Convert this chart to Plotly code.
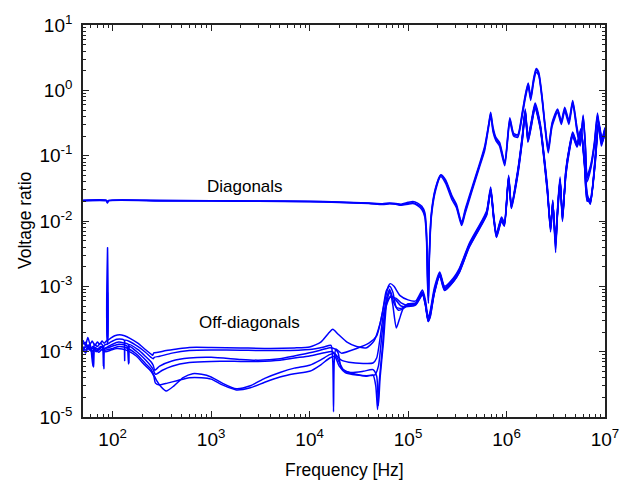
import plotly.graph_objects as go

# Measured transfer voltage ratios, (frequency [Hz], ratio) pairs per winding combination.
DIAG_1 = [(50, 0.0206), (86, 0.0206), (88.5, 0.0188), (91, 0.0205), (300, 0.0205), (1000, 0.0204),
          (3000, 0.0202), (1e4, 0.0199), (2e4, 0.0194), (4e4, 0.0187), (5.5e4, 0.0181), (6.5e4, 0.0186),
          (7.5e4, 0.0183), (8.5e4, 0.0177), (1e5, 0.0187), (1.12e5, 0.0191), (1.25e5, 0.0178),
          (1.38e5, 0.0160), (1.48e5, 0.0125), (1.54e5, 0.006), (1.58e5, 0.0012), (1.61e5, 0.0006),
          (1.64e5, 0.0025), (1.72e5, 0.012), (1.9e5, 0.031), (2.15e5, 0.050), (2.4e5, 0.041),
          (2.8e5, 0.023), (3.1e5, 0.017), (3.5e5, 0.009), (3.8e5, 0.014), (4.5e5, 0.032), (5.3e5, 0.07),
          (6.0e5, 0.13), (6.6e5, 0.3), (6.9e5, 0.44), (7.3e5, 0.25), (7.8e5, 0.18), (8.5e5, 0.15),
          (9.6e5, 0.076), (1.08e6, 0.36), (1.18e6, 0.21), (1.3e6, 0.20), (1.45e6, 0.45), (1.55e6, 0.8),
          (1.66e6, 1.26), (1.76e6, 0.75), (1.88e6, 1.4), (2.0e6, 2.07), (2.12e6, 1.8), (2.3e6, 0.75),
          (2.45e6, 0.3), (2.65e6, 0.12), (2.9e6, 0.3), (3.3e6, 0.5), (3.6e6, 0.32), (3.9e6, 0.52),
          (4.3e6, 0.33), (4.7e6, 0.67), (5.2e6, 0.25), (5.6e6, 0.15), (6.0e6, 0.4), (6.3e6, 0.15),
          (6.6e6, 0.045), (7.2e6, 0.07), (7.8e6, 0.15), (8.4e6, 0.42), (9.2e6, 0.15), (1e7, 0.26)]

DIAG_2 = [(50, 0.0203), (86, 0.0203), (88.5, 0.0192), (91, 0.0203), (300, 0.0203), (1000, 0.0202),
          (3000, 0.0200), (1e4, 0.0197), (2e4, 0.0192), (4e4, 0.0185), (5.5e4, 0.0179), (6.5e4, 0.0183),
          (7.5e4, 0.0180), (8.5e4, 0.0174), (1e5, 0.0181), (1.12e5, 0.0185), (1.25e5, 0.0172),
          (1.38e5, 0.0150), (1.48e5, 0.0115), (1.54e5, 0.005), (1.58e5, 0.0010), (1.61e5, 0.00055),
          (1.64e5, 0.0022), (1.72e5, 0.011), (1.9e5, 0.029), (2.15e5, 0.048), (2.4e5, 0.038),
          (2.8e5, 0.021), (3.1e5, 0.016), (3.5e5, 0.0085), (3.8e5, 0.013), (4.5e5, 0.030), (5.3e5, 0.066),
          (6.0e5, 0.12), (6.6e5, 0.28), (6.9e5, 0.41), (7.3e5, 0.23), (7.8e5, 0.17), (8.5e5, 0.14),
          (9.6e5, 0.07), (1.08e6, 0.33), (1.18e6, 0.20), (1.3e6, 0.19), (1.45e6, 0.42), (1.55e6, 0.75),
          (1.66e6, 1.15), (1.76e6, 0.7), (1.88e6, 1.3), (2.0e6, 1.9), (2.12e6, 1.7), (2.3e6, 0.7),
          (2.45e6, 0.28), (2.65e6, 0.11), (2.9e6, 0.28), (3.3e6, 0.46), (3.6e6, 0.3), (3.9e6, 0.48),
          (4.3e6, 0.3), (4.7e6, 0.62), (5.2e6, 0.23), (5.6e6, 0.14), (6.0e6, 0.37), (6.3e6, 0.14),
          (6.6e6, 0.04), (7.2e6, 0.065), (7.8e6, 0.14), (8.4e6, 0.38), (9.2e6, 0.14), (1e7, 0.24)]

DIAG_3 = [(50, 0.0208), (86, 0.0208), (88.5, 0.0198), (91, 0.0207), (300, 0.0207), (1000, 0.0205),
          (3000, 0.0203), (1e4, 0.0200), (2e4, 0.0196), (4e4, 0.0189), (5.5e4, 0.0184), (6.5e4, 0.0189),
          (7.5e4, 0.0186), (8.5e4, 0.0181), (1e5, 0.0193), (1.12e5, 0.0199), (1.25e5, 0.0188),
          (1.38e5, 0.0168), (1.48e5, 0.0135), (1.54e5, 0.007), (1.58e5, 0.0015), (1.61e5, 0.0007),
          (1.64e5, 0.0028), (1.72e5, 0.013), (1.9e5, 0.032), (2.15e5, 0.051), (2.4e5, 0.043),
          (2.8e5, 0.024), (3.1e5, 0.018), (3.5e5, 0.0095), (3.8e5, 0.015), (4.5e5, 0.034), (5.3e5, 0.074),
          (6.0e5, 0.14), (6.6e5, 0.31), (6.9e5, 0.46), (7.3e5, 0.27), (7.8e5, 0.19), (8.5e5, 0.16),
          (9.6e5, 0.08), (1.08e6, 0.38), (1.18e6, 0.22), (1.3e6, 0.21), (1.45e6, 0.48), (1.55e6, 0.85),
          (1.66e6, 1.3), (1.76e6, 0.8), (1.88e6, 1.5), (2.0e6, 2.15), (2.12e6, 1.9), (2.3e6, 0.8),
          (2.45e6, 0.32), (2.65e6, 0.13), (2.9e6, 0.32), (3.3e6, 0.52), (3.6e6, 0.34), (3.9e6, 0.55),
          (4.3e6, 0.35), (4.7e6, 0.7), (5.2e6, 0.27), (5.6e6, 0.16), (6.0e6, 0.42), (6.3e6, 0.16),
          (6.6e6, 0.05), (7.2e6, 0.075), (7.8e6, 0.16), (8.4e6, 0.45), (9.2e6, 0.16), (1e7, 0.27)]

OFF_1 = [(50, 1.5e-4), (53, 1.25e-4), (56, 1.65e-4), (59, 1.3e-4), (62, 1.45e-4), (66, 1.25e-4),
         (70, 1.4e-4), (74, 1.3e-4), (78, 1.45e-4), (82, 1.35e-4), (86, 1.45e-4), (88.4, 1.5e-4),
         (88.8, 3.9e-3), (89.2, 1.5e-4), (95, 1.6e-4), (105, 1.75e-4), (118, 1.82e-4), (132, 1.75e-4),
         (150, 1.6e-4), (180, 1.35e-4), (215, 1.08e-4), (245, 9.2e-5), (255, 8.8e-5), (262, 9.6e-5),
         (290, 9.8e-5), (350, 1.04e-4), (450, 1.1e-4), (600, 1.16e-4), (1000, 1.16e-4), (2000, 1.14e-4),
         (4000, 1.12e-4), (7000, 1.14e-4), (1e4, 1.18e-4), (1.3e4, 1.4e-4), (1.55e4, 1.9e-4),
         (1.72e4, 2.2e-4), (1.95e4, 1.85e-4), (2.4e4, 1.4e-4), (3e4, 1.2e-4), (3.8e4, 1.15e-4),
         (4.5e4, 1.45e-4), (5.2e4, 2.7e-4), (5.8e4, 6e-4), (6.3e4, 1.0e-3), (6.6e4, 1.1e-3),
         (7.2e4, 1.0e-3), (8.3e4, 7.2e-4), (1e5, 6.2e-4), (1.2e5, 6e-4), (1.4e5, 8.8e-4), (1.5e5, 6.2e-4),
         (1.6e5, 3.3e-4), (1.68e5, 4.2e-4), (1.85e5, 9.5e-4), (2.1e5, 1.65e-3), (2.35e5, 1.0e-3),
         (2.9e5, 1.35e-3), (3.3e5, 1.85e-3), (4.2e5, 4.6e-3), (5.7e5, 0.0105), (6.3e5, 0.0145),
         (6.9e5, 0.033), (7.4e5, 0.0125), (7.9e5, 0.0065), (8.9e5, 0.0115), (9.5e5, 0.0095),
         (1.05e6, 0.05), (1.12e6, 0.018), (1.3e6, 0.06), (1.45e6, 0.21), (1.55e6, 0.52), (1.65e6, 0.19),
         (1.8e6, 0.36), (1.95e6, 0.64), (2.2e6, 0.31), (2.4e6, 0.105), (2.6e6, 0.034), (2.8e6, 0.0075),
         (2.95e6, 0.021), (3.15e6, 0.0033), (3.3e6, 0.016), (3.5e6, 0.047), (3.7e6, 0.0105),
         (4.0e6, 0.06), (4.3e6, 0.125), (4.7e6, 0.23), (5.2e6, 0.155), (5.7e6, 0.26), (6.2e6, 0.085),
         (6.6e6, 0.026), (7.1e6, 0.019), (7.9e6, 0.085), (8.6e6, 0.34), (9.3e6, 0.19), (1e7, 0.26)]

OFF_2 = [(50, 1.3e-4), (53, 1.4e-4), (56, 1.15e-4), (59, 1.35e-4), (63, 6e-5), (65, 1.3e-4),
         (70, 1.2e-4), (75, 1.35e-4), (79, 1.25e-4), (80.5, 6e-5), (82, 1.25e-4), (87, 1.3e-4),
         (88.6, 1.3e-4), (88.8, 8e-4), (89, 1.32e-4), (95, 1.4e-4), (110, 1.55e-4), (125, 1.55e-4),
         (131, 1.5e-4), (132.5, 7.3e-5), (134, 1.5e-4), (150, 1.42e-4), (180, 1.2e-4), (215, 9.8e-5),
         (245, 8.2e-5), (258, 7.8e-5), (265, 8.2e-5), (300, 8.5e-5), (400, 9.5e-5), (600, 1.04e-4),
         (1000, 1.06e-4), (2000, 1.05e-4), (5000, 1.04e-4), (1e4, 1.08e-4), (1.4e4, 1.18e-4),
         (1.65e4, 1.25e-4), (1.72e4, 7e-5), (1.75e4, 1.2e-5), (1.78e4, 7e-5), (1.85e4, 1.1e-4),
         (2.1e4, 9.5e-5), (3e4, 1.12e-4), (4e4, 1.35e-4), (4.8e4, 1.75e-4), (5.5e4, 4e-4), (6e4, 8.5e-4),
         (6.5e4, 1.0e-3), (7e4, 8.2e-4), (7.6e4, 4.8e-4), (8.5e4, 4.6e-4), (1e5, 5.4e-4), (1.2e5, 5.6e-4),
         (1.4e5, 8.2e-4), (1.5e5, 5.6e-4), (1.6e5, 3e-4), (1.68e5, 3.7e-4), (1.85e5, 8.2e-4),
         (2.1e5, 1.52e-3), (2.35e5, 9.2e-4), (2.9e5, 1.25e-3), (3.3e5, 1.7e-3), (4.2e5, 4.3e-3),
         (5.7e5, 0.0098), (6.3e5, 0.0133), (6.9e5, 0.030), (7.4e5, 0.0115), (7.9e5, 0.006),
         (8.9e5, 0.0105), (9.5e5, 0.0088), (1.05e6, 0.046), (1.12e6, 0.0165), (1.3e6, 0.055),
         (1.45e6, 0.19), (1.55e6, 0.47), (1.65e6, 0.175), (1.8e6, 0.33), (1.95e6, 0.58), (2.2e6, 0.28),
         (2.4e6, 0.095), (2.6e6, 0.03), (2.8e6, 0.0068), (2.95e6, 0.019), (3.15e6, 0.005),
         (3.3e6, 0.0145), (3.5e6, 0.042), (3.7e6, 0.0115), (4.0e6, 0.054), (4.3e6, 0.115), (4.7e6, 0.21),
         (5.2e6, 0.145), (5.7e6, 0.24), (6.2e6, 0.075), (6.6e6, 0.023), (7.1e6, 0.021), (7.9e6, 0.075),
         (8.6e6, 0.31), (9.3e6, 0.17), (1e7, 0.23)]

OFF_3 = [(50, 1.2e-4), (53, 1.05e-4), (57, 1.25e-4), (61, 1.1e-4), (64, 5.8e-5), (66, 1.15e-4),
         (72, 1.05e-4), (76, 1.18e-4), (80, 1.1e-4), (81.5, 5.5e-5), (83, 1.1e-4), (90, 1.2e-4),
         (100, 1.3e-4), (115, 1.4e-4), (130, 1.36e-4), (144, 1.3e-4), (146, 6.8e-5), (148, 1.28e-4),
         (180, 1.08e-4), (215, 8.5e-5), (245, 7e-5), (258, 6.2e-5), (268, 5.2e-5), (300, 6e-5),
         (400, 7.2e-5), (600, 8e-5), (1000, 8.2e-5), (2000, 7.6e-5), (3000, 7.4e-5), (5000, 7.8e-5),
         (7000, 8.6e-5), (1e4, 9.6e-5), (1.3e4, 1.06e-4), (1.6e4, 1.15e-4), (1.8e4, 1.1e-4),
         (1.95e4, 9.6e-5), (2.1e4, 5.6e-5), (2.5e4, 4.8e-5), (3.2e4, 4.4e-5), (3.8e4, 4.2e-5),
         (4.4e4, 4.4e-5), (4.7e4, 3e-5), (4.9e4, 1.3e-5), (5.1e4, 3.5e-5), (5.5e4, 1.2e-4), (6e4, 6.2e-4),
         (6.5e4, 9e-4), (7e4, 5.2e-4), (7.6e4, 2.3e-4), (8.2e4, 3.2e-4), (9e4, 4.7e-4), (1e5, 5.1e-4),
         (1.2e5, 5.3e-4), (1.4e5, 7.6e-4), (1.5e5, 5.2e-4), (1.6e5, 2.9e-4), (1.68e5, 3.5e-4),
         (1.85e5, 8e-4), (2.1e5, 1.45e-3), (2.35e5, 8.8e-4), (2.9e5, 1.2e-3), (3.3e5, 1.62e-3),
         (4.2e5, 4.1e-3), (5.7e5, 0.0094), (6.3e5, 0.0128), (6.9e5, 0.029), (7.4e5, 0.011),
         (7.9e5, 0.0057), (8.9e5, 0.0102), (9.5e5, 0.0085), (1.05e6, 0.044), (1.12e6, 0.0158),
         (1.3e6, 0.052), (1.45e6, 0.18), (1.55e6, 0.45), (1.65e6, 0.165), (1.8e6, 0.31), (1.95e6, 0.55),
         (2.2e6, 0.27), (2.4e6, 0.09), (2.6e6, 0.028), (2.8e6, 0.0072), (2.95e6, 0.017), (3.15e6, 0.0045),
         (3.3e6, 0.013), (3.5e6, 0.04), (3.7e6, 0.012), (4.0e6, 0.05), (4.3e6, 0.11), (4.7e6, 0.2),
         (5.2e6, 0.14), (5.7e6, 0.23), (6.2e6, 0.07), (6.6e6, 0.021), (7.1e6, 0.02), (7.9e6, 0.07),
         (8.6e6, 0.3), (9.3e6, 0.16), (1e7, 0.22)]

OFF_4 = [(50, 1.1e-4), (55, 1.2e-4), (60, 1.08e-4), (65, 1.18e-4), (70, 1.1e-4), (76, 1.2e-4),
         (82, 1.12e-4), (90, 1.15e-4), (100, 1.22e-4), (115, 1.3e-4), (130, 1.28e-4), (140, 1.22e-4),
         (145, 6.5e-5), (148, 1.2e-4), (180, 9.7e-5), (215, 7.5e-5), (245, 6e-5), (258, 5.3e-5),
         (272, 4.5e-5), (320, 5.2e-5), (400, 6e-5), (600, 6.8e-5), (1000, 7.1e-5), (2000, 7.1e-5),
         (3000, 7.1e-5), (5000, 7.4e-5), (7000, 8e-5), (1e4, 8.6e-5), (1.4e4, 9.6e-5), (1.7e4, 1.0e-4),
         (1.9e4, 8.6e-5), (2.1e4, 7.4e-5), (2.5e4, 6.9e-5), (3.5e4, 6.6e-5), (4.4e4, 6.7e-5),
         (4.8e4, 8e-5), (5.3e4, 2e-4), (5.6e4, 3.6e-4), (6e4, 5.5e-4), (6.6e4, 6.8e-4), (7.5e4, 6.6e-4),
         (8.5e4, 5.6e-4), (1e5, 5.1e-4), (1.2e5, 5.4e-4), (1.4e5, 7.9e-4), (1.5e5, 5.4e-4),
         (1.6e5, 3.1e-4), (1.68e5, 3.9e-4), (1.85e5, 8.7e-4), (2.1e5, 1.58e-3), (2.35e5, 9.6e-4),
         (2.9e5, 1.3e-3), (3.3e5, 1.78e-3), (4.2e5, 4.4e-3), (5.7e5, 0.0101), (6.3e5, 0.0138),
         (6.9e5, 0.031), (7.4e5, 0.012), (7.9e5, 0.0062), (8.9e5, 0.011), (9.5e5, 0.0091),
         (1.05e6, 0.048), (1.12e6, 0.0172), (1.3e6, 0.057), (1.45e6, 0.2), (1.55e6, 0.49),
         (1.65e6, 0.185), (1.8e6, 0.34), (1.95e6, 0.6), (2.2e6, 0.29), (2.4e6, 0.1), (2.6e6, 0.031),
         (2.8e6, 0.0082), (2.95e6, 0.02), (3.15e6, 0.0038), (3.3e6, 0.015), (3.5e6, 0.044),
         (3.7e6, 0.0098), (4.0e6, 0.057), (4.3e6, 0.12), (4.7e6, 0.22), (5.2e6, 0.15), (5.7e6, 0.25),
         (6.2e6, 0.08), (6.6e6, 0.024), (7.1e6, 0.018), (7.9e6, 0.08), (8.6e6, 0.32), (9.3e6, 0.18),
         (1e7, 0.24)]

OFF_5 = [(50, 1.0e-4), (54, 1.3e-4), (58, 1.05e-4), (63, 1.2e-4), (68, 1.0e-4), (74, 1.12e-4),
         (80, 1.05e-4), (90, 1.08e-4), (100, 1.12e-4), (115, 1.2e-4), (130, 1.18e-4), (150, 1.08e-4),
         (180, 8.8e-5), (215, 6.6e-5), (245, 5.4e-5), (258, 4.6e-5), (280, 3.6e-5), (310, 2.9e-5),
         (350, 2.5e-5), (420, 3e-5), (520, 4.0e-5), (650, 4.6e-5), (800, 4.5e-5), (1000, 4.1e-5),
         (1300, 3.3e-5), (1800, 2.7e-5), (2500, 3e-5), (3500, 3.9e-5), (5000, 4.8e-5), (7000, 5.6e-5),
         (1e4, 6.2e-5), (1.3e4, 7.5e-5), (1.6e4, 9e-5), (1.8e4, 9.3e-5), (1.95e4, 7.5e-5),
         (2.2e4, 5.3e-5), (2.6e4, 4.8e-5), (3.5e4, 5e-5), (4.4e4, 5.3e-5), (4.8e4, 4.2e-5),
         (5e4, 1.5e-5), (5.2e4, 4e-5), (5.6e4, 1.3e-4), (6.1e4, 6e-4), (6.6e4, 8.5e-4), (7.2e4, 5.5e-4),
         (8e4, 4.3e-4), (9e4, 4.6e-4), (1e5, 5.2e-4), (1.2e5, 5.5e-4), (1.4e5, 8e-4), (1.5e5, 5.5e-4),
         (1.6e5, 3e-4), (1.68e5, 3.8e-4), (1.85e5, 8.4e-4), (2.1e5, 1.55e-3), (2.35e5, 9.4e-4),
         (2.9e5, 1.28e-3), (3.3e5, 1.75e-3), (4.2e5, 4.35e-3), (5.7e5, 0.0099), (6.3e5, 0.0135),
         (6.9e5, 0.0305), (7.4e5, 0.0118), (7.9e5, 0.0061), (8.9e5, 0.0108), (9.5e5, 0.009),
         (1.05e6, 0.047), (1.12e6, 0.017), (1.3e6, 0.056), (1.45e6, 0.195), (1.55e6, 0.48),
         (1.65e6, 0.18), (1.8e6, 0.335), (1.95e6, 0.59), (2.2e6, 0.285), (2.4e6, 0.098), (2.6e6, 0.03),
         (2.8e6, 0.0078), (2.95e6, 0.0195), (3.15e6, 0.0042), (3.3e6, 0.0148), (3.5e6, 0.043),
         (3.7e6, 0.0102), (4.0e6, 0.056), (4.3e6, 0.118), (4.7e6, 0.215), (5.2e6, 0.148),
         (5.7e6, 0.245), (6.2e6, 0.078), (6.6e6, 0.0235), (7.1e6, 0.0185), (7.9e6, 0.078),
         (8.6e6, 0.315), (9.3e6, 0.175), (1e7, 0.235)]

OFF_6 = [(50, 1.15e-4), (53, 9.5e-5), (57, 1.2e-4), (61, 1.0e-4), (66, 1.1e-4), (72, 9.8e-5),
         (78, 1.08e-4), (85, 1.0e-4), (95, 1.05e-4), (110, 1.12e-4), (125, 1.1e-4), (145, 1.02e-4),
         (175, 8.5e-5), (210, 6.3e-5), (245, 5e-5), (262, 4.2e-5), (272, 3.3e-5), (300, 3.1e-5),
         (360, 3.3e-5), (450, 3.6e-5), (600, 4.0e-5), (800, 4.0e-5), (1000, 3.8e-5), (1300, 3.1e-5),
         (1800, 2.6e-5), (2500, 2.8e-5), (3500, 3.4e-5), (5000, 4.1e-5), (7000, 4.6e-5), (1e4, 5.0e-5),
         (1.3e4, 6.3e-5), (1.6e4, 8e-5), (1.8e4, 8.5e-5), (2e4, 6e-5), (2.3e4, 4.8e-5), (3e4, 4.4e-5),
         (4e4, 4.3e-5), (4.6e4, 4.4e-5), (5e4, 6e-5), (5.5e4, 2.2e-4), (6e4, 5e-4), (6.7e4, 7.2e-4),
         (7.5e4, 6.2e-4), (8.5e4, 5e-4), (1e5, 4.9e-4), (1.2e5, 5.2e-4), (1.4e5, 7.4e-4), (1.5e5, 5.1e-4),
         (1.6e5, 2.9e-4), (1.68e5, 3.4e-4), (1.85e5, 7.8e-4), (2.1e5, 1.42e-3), (2.35e5, 8.6e-4),
         (2.9e5, 1.18e-3), (3.3e5, 1.6e-3), (4.2e5, 4.0e-3), (5.7e5, 0.0092), (6.3e5, 0.0125),
         (6.9e5, 0.028), (7.4e5, 0.0108), (7.9e5, 0.0056), (8.9e5, 0.0099), (9.5e5, 0.0083),
         (1.05e6, 0.043), (1.12e6, 0.0155), (1.3e6, 0.05), (1.45e6, 0.175), (1.55e6, 0.44),
         (1.65e6, 0.16), (1.8e6, 0.3), (1.95e6, 0.54), (2.2e6, 0.26), (2.4e6, 0.088), (2.6e6, 0.027),
         (2.8e6, 0.0085), (2.95e6, 0.0175), (3.15e6, 0.006), (3.3e6, 0.013), (3.5e6, 0.039),
         (3.7e6, 0.0125), (4.0e6, 0.049), (4.3e6, 0.105), (4.7e6, 0.195), (5.2e6, 0.135),
         (5.7e6, 0.225), (6.2e6, 0.068), (6.6e6, 0.02), (7.1e6, 0.022), (7.9e6, 0.068), (8.6e6, 0.29),
         (9.3e6, 0.155), (1e7, 0.215)]

SERIES = [DIAG_1, DIAG_2, DIAG_3, OFF_1, OFF_2, OFF_3, OFF_4, OFF_5, OFF_6]

X_TICKS = [1e2, 1e3, 1e4, 1e5, 1e6, 1e7]
X_TICK_TEXT = ["10<sup>2</sup>", "10<sup>3</sup>", "10<sup>4</sup>", "10<sup>5</sup>",
               "10<sup>6</sup>", "10<sup>7</sup>"]
Y_TICKS = [1e-5, 1e-4, 1e-3, 1e-2, 1e-1, 1e0, 1e1]
Y_TICK_TEXT = ["10<sup>-5</sup>", "10<sup>-4</sup>", "10<sup>-3</sup>", "10<sup>-2</sup>",
               "10<sup>-1</sup>", "10<sup>0</sup>", "10<sup>1</sup>"]

LINE_COLOR = "#0000ff"
FONT = "Liberation Sans, Arial, sans-serif"


def minor_log_ticks(lo_exp, hi_exp):
    vals = []
    for e in range(lo_exp, hi_exp):
        for m in range(2, 10):
            vals.append(m * 10.0 ** e)
    return vals


fig = go.Figure()
for s in SERIES:
    fig.add_trace(go.Scatter(
        x=[p[0] for p in s], y=[p[1] for p in s], mode="lines",
        line=dict(color=LINE_COLOR, width=1.5, shape="spline", smoothing=0.6),
        showlegend=False, hoverinfo="skip",
    ))

axis_common = dict(
    type="log", showgrid=False, zeroline=False,
    showline=True, linecolor="#222222", linewidth=1.6, mirror="allticks",
    ticks="inside", ticklen=6, tickwidth=1, tickcolor="#222222",
    tickfont=dict(family=FONT, size=19, color="black"),
)

fig.update_xaxes(
    **axis_common, range=[1.69897, 7],
    tickmode="array", tickvals=X_TICKS, ticktext=X_TICK_TEXT, ticklabelstandoff=4,
    minor=dict(tickmode="array", tickvals=minor_log_ticks(1, 7), ticks="inside",
               ticklen=3, tickcolor="#222222"),
)
fig.update_yaxes(
    **axis_common, range=[-5, 1],
    tickmode="array", tickvals=Y_TICKS, ticktext=Y_TICK_TEXT, ticklabelstandoff=5,
    minor=dict(tickmode="array", tickvals=minor_log_ticks(-5, 1), ticks="inside",
               ticklen=3, tickcolor="#222222"),
)

fig.add_annotation(x=3.34, y=-1.47, xref="x", yref="y", text="Diagonals", showarrow=False,
                   font=dict(family=FONT, size=17, color="black"))
fig.add_annotation(x=3.39, y=-3.55, xref="x", yref="y", text="Off-diagonals", showarrow=False,
                   font=dict(family=FONT, size=17, color="black"))
fig.add_annotation(x=0.5, y=0, xref="paper", yref="paper", yshift=-53, yanchor="middle",
                   text="Frequency [Hz]", showarrow=False,
                   font=dict(family=FONT, size=17.5, color="black"))
fig.add_annotation(x=0, y=0.5, xref="paper", yref="paper", xshift=-58, xanchor="center",
                   text="Voltage ratio", textangle=-90, showarrow=False,
                   font=dict(family=FONT, size=17.5, color="black"))

fig.update_layout(
    width=636, height=486,
    margin=dict(l=83, r=31, t=23, b=69),
    paper_bgcolor="white", plot_bgcolor="white",
)

fig.write_html("out.html")
